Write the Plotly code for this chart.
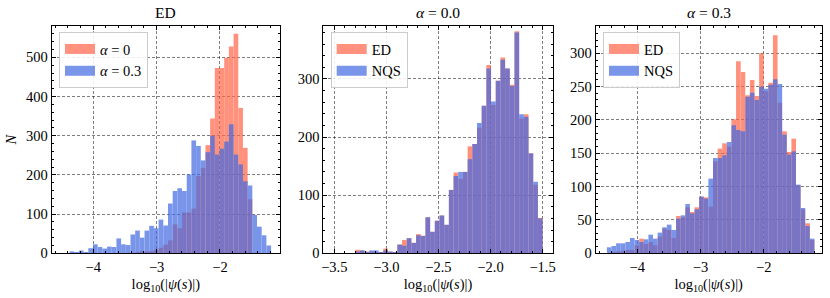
import plotly.graph_objects as go

# ---------------- data ----------------
# Panel 1: ED histograms, alpha = 0 and alpha = 0.3
p1_bin_start = -4.375
p1_bin_width = 0.074
p1_alpha0 = [0, 0, 0, 0, 0, 0, 0, 0, 0, 0, 0, 0, 0, 0,
             2, 6, 5, 6, 9, 14, 22, 33, 74, 64, 104, 104, 114, 197, 218, 276,
             344, 473, 473, 499, 528, 560, 371, 269, 138, 0, 0, 0, 0]
p1_alpha03 = [5, 1, 7, 3, 13, 23, 16, 12, 17, 16, 38, 23, 21, 48, 58, 40, 58, 70,
              64, 86, 71, 127, 159, 166, 159, 201, 288, 274, 237, 258, 300, 252,
              267, 285, 329, 252, 227, 184, 173, 98, 68, 46, 20]

# Panel 2: alpha = 0.0, ED vs NQS
p2_bin_start = -3.30
p2_bin_width = 0.045
p2_ed = [6, 5, 3, 3, 2, 2, 8, 3, 2, 15, 23, 26, 18, 33, 30, 62, 37, 56, 65, 49,
         109, 139, 128, 140, 184, 188, 216, 254, 324, 255, 297, 337, 318, 290,
         382, 232, 239, 172, 118, 61]
p2_nqs = [3, 5, 2, 5, 5, 2, 5, 3, 2, 15, 13, 26, 18, 31, 30, 62, 37, 56, 65, 49,
          109, 133, 140, 140, 162, 188, 224, 254, 318, 261, 297, 333, 318, 288,
          380, 239, 235, 172, 123, 60]

# Panel 3: alpha = 0.3, ED vs NQS
p3_bin_start = -4.48
p3_bin_width = 0.0729
p3_ed = [0, 2, 3, 4, 5, 5, 12, 22, 14, 17, 12, 25, 37, 35, 23, 56, 54, 69, 62, 69,
         85, 84, 70, 138, 157, 165, 160, 201, 288, 272, 237, 260, 236, 300, 243,
         256, 327, 226, 183, 152, 172, 102, 66, 45, 20]
p3_nqs = [9, 11, 15, 15, 17, 23, 20, 17, 21, 28, 22, 31, 39, 43, 35, 52, 57, 74,
          60, 66, 85, 82, 112, 143, 143, 147, 167, 192, 185, 183, 235, 241, 230,
          250, 247, 253, 261, 254, 178, 148, 153, 103, 68, 41, 22]

panel_titles = ["ED", "<i>α</i> = 0.0", "<i>α</i> = 0.3"]
p1_names = ["<i>α</i> = 0", "<i>α</i> = 0.3"]
p23_names = ["ED", "NQS"]
x_title = "log<sub>10</sub>(|<i>ψ</i>(<i>s</i>)|)"
y_title = "<i>N</i>"

# ---------------- styling ----------------
FONT = "Liberation Serif"
RED = "rgb(255,99,71)"
BLUE = "rgb(65,105,225)"
RED_A = "rgba(255,99,71,0.7)"
BLUE_A = "rgba(65,105,225,0.7)"
OPAC = 0.7


def centers(start, width, n):
    return [start + width * (i + 0.5) for i in range(n)]


fig = go.Figure()

panels = [
    (p1_bin_start, p1_bin_width, p1_alpha0, p1_alpha03, p1_names, "x", "y", "legend"),
    (p2_bin_start, p2_bin_width, p2_ed, p2_nqs, p23_names, "x2", "y2", "legend2"),
    (p3_bin_start, p3_bin_width, p3_ed, p3_nqs, p23_names, "x3", "y3", "legend3"),
]

for start, width, red_vals, blue_vals, names, xa, ya, lg in panels:
    xs = centers(start, width, len(red_vals))
    fig.add_trace(go.Bar(x=xs, y=red_vals, width=width, xaxis=xa, yaxis=ya,
                         marker=dict(color=RED, line=dict(width=0)),
                         opacity=OPAC, showlegend=False, name=names[0]))
    fig.add_trace(go.Bar(x=xs, y=blue_vals, width=width, xaxis=xa, yaxis=ya,
                         marker=dict(color=BLUE, line=dict(width=0)),
                         opacity=OPAC, showlegend=False, name=names[1]))
    # legend swatches (wide patches like the reference)
    fig.add_trace(go.Scatter(x=[None], y=[None], mode="lines", xaxis=xa, yaxis=ya,
                             line=dict(color=RED_A, width=10), name=names[0],
                             legend=lg, showlegend=True, hoverinfo="skip"))
    fig.add_trace(go.Scatter(x=[None], y=[None], mode="lines", xaxis=xa, yaxis=ya,
                             line=dict(color=BLUE_A, width=10), name=names[1],
                             legend=lg, showlegend=True, hoverinfo="skip"))

W, H = 830, 298


def px_x(v):
    return v / W


def px_y(v):
    return 1 - v / H


x_domains = [[px_x(51.7), px_x(280.0)], [px_x(323.3), px_x(552.7)],
             [px_x(595.7), px_x(821.7)]]
y_domain = [px_y(253.3), px_y(26.0)]
x_ranges = [[-4.657, -1.052], [-3.606, -1.403], [-4.657, -1.085]]
x_dticks = [1, 0.5, 1]
x_minor = [0.2, 0.1, 0.2]
x_fmt = ["", ".1f", ""]
y_ranges = [[0, 580], [0, 391], [0, 341]]
y_dticks = [100, 100, 50]
y_minor = [20, 20, 10]

axis_common = dict(
    showline=True, mirror="allticks", linecolor="black", linewidth=1,
    ticks="inside", ticklen=4, tickwidth=0.8, tickcolor="black",
    showgrid=True, gridcolor="rgba(0,0,0,0.5)", gridwidth=0.6, griddash="3px,2px",
    zeroline=False, automargin=False,
    tickfont=dict(family=FONT, size=14.5, color="black"),
)

layout = dict(
    width=W, height=H, margin=dict(l=0, r=0, t=0, b=0),
    paper_bgcolor="white", plot_bgcolor="white", barmode="overlay",
    font=dict(family=FONT, size=14, color="black"),
    showlegend=True,
)

for i in range(3):
    sx = "" if i == 0 else str(i + 1)
    xa = dict(axis_common)
    xa.update(domain=x_domains[i], range=x_ranges[i], dtick=x_dticks[i], tick0=0,
              anchor="y" + sx,
              minor=dict(ticks="inside", ticklen=2, tickwidth=0.6, tickcolor="black",
                         dtick=x_minor[i], tick0=0, showgrid=False),
              title=dict(text=x_title, font=dict(family=FONT, size=14.5), standoff=5))
    if x_fmt[i]:
        xa["tickformat"] = x_fmt[i]
    ya = dict(axis_common)
    ya.update(domain=y_domain, range=y_ranges[i], dtick=y_dticks[i], tick0=0,
              anchor="x" + sx,
              minor=dict(ticks="inside", ticklen=2, tickwidth=0.6, tickcolor="black",
                         dtick=y_minor[i], tick0=0, showgrid=False))
    if i == 0:
        ya["title"] = dict(text=y_title, font=dict(family=FONT, size=14.5), standoff=5)
    layout["xaxis" + sx] = xa
    layout["yaxis" + sx] = ya

legend_x = [px_x(59.0), px_x(330.7), px_x(603.0)]
for i, name in enumerate(["legend", "legend2", "legend3"]):
    layout[name] = dict(
        x=legend_x[i], y=px_y(32.0), xanchor="left", yanchor="top",
        bgcolor="rgba(255,255,255,0.85)", bordercolor="#cccccc", borderwidth=1,
        font=dict(family=FONT, size=14.5, color="black"),
        itemwidth=30, tracegroupgap=0,
    )

fig.update_layout(**layout)

annotations = []
for i, t in enumerate(panel_titles):
    cx = (x_domains[i][0] + x_domains[i][1]) / 2
    annotations.append(dict(text=t, x=cx, y=px_y(12.5), xref="paper", yref="paper",
                            xanchor="center", yanchor="middle", showarrow=False,
                            font=dict(family=FONT, size=15.5, color="black")))
fig.update_layout(annotations=annotations)

# remove the default 8px body margin so the figure fills the window exactly
fig.write_html("out.html",
               config={"displayModeBar": False},
               post_script="document.body.style.margin='0';"
                           "document.body.style.overflow='hidden';")
